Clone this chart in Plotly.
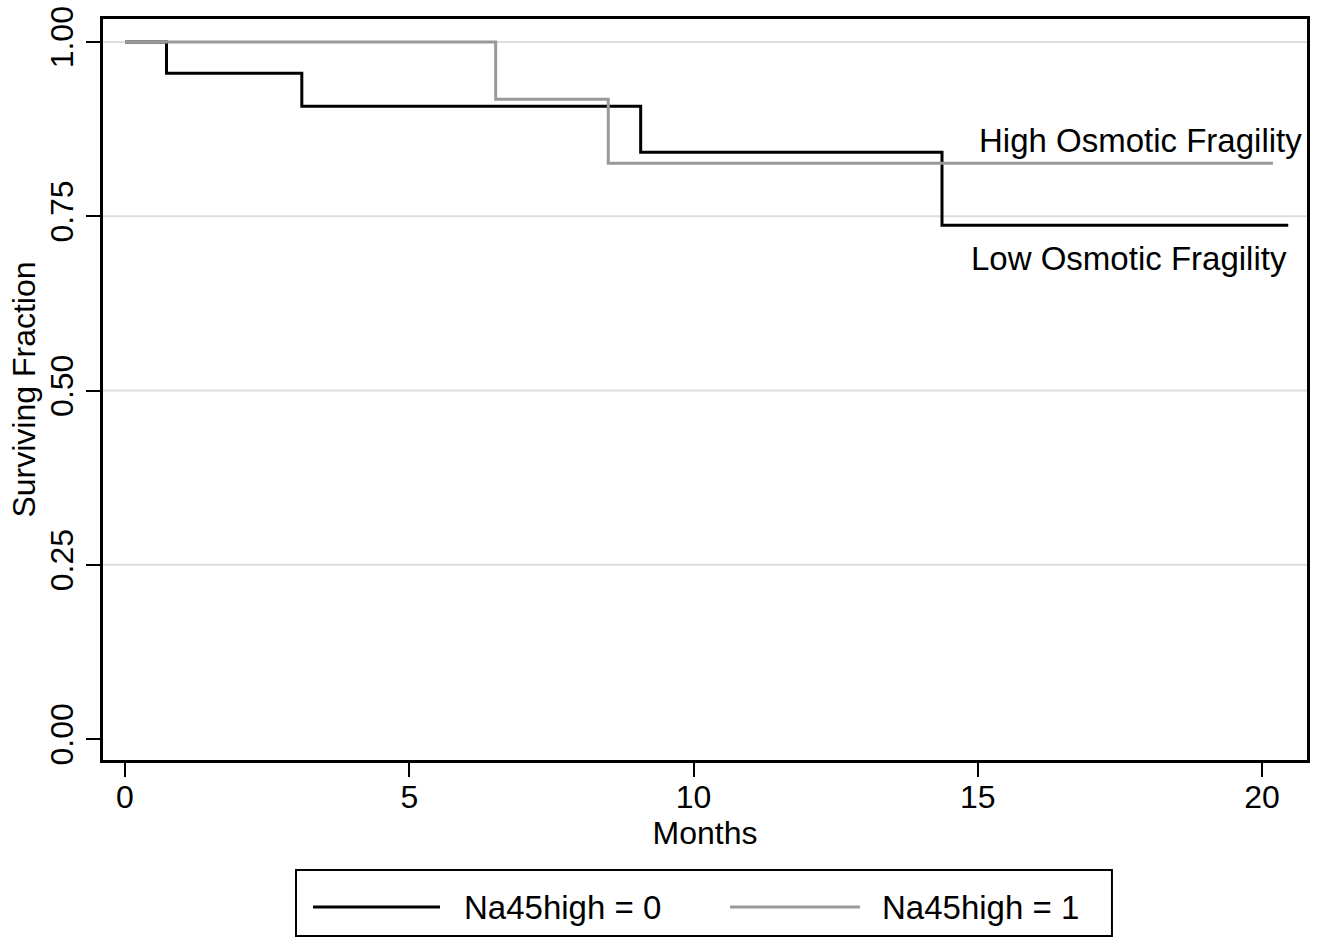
import plotly.graph_objects as go

# Kaplan-Meier step data
months_low = [0, 0.73, 3.11, 9.07, 14.37, 20.46]
surv_low = [1.0, 0.955, 0.908, 0.842, 0.737, 0.737]
months_high = [0, 6.52, 8.50, 20.19]
surv_high = [1.0, 0.918, 0.826, 0.826]

series_names = ["Na45high = 0", "Na45high = 1"]
series_colors = ["#000000", "#999999"]

y_ticks = [0.0, 0.25, 0.5, 0.75, 1.0]
y_ticklabels = ["0.00", "0.25", "0.50", "0.75", "1.00"]
grid_vals = [0.25, 0.5, 0.75, 1.0]
x_ticks = [0, 5, 10, 15, 20]

FONT = "Liberation Sans, Arial, Helvetica, sans-serif"
FS = 32

fig = go.Figure()
fig.add_trace(go.Scatter(x=months_low, y=surv_low, mode="lines", line_shape="hv",
                         line=dict(color=series_colors[0], width=3), name=series_names[0],
                         showlegend=False))
fig.add_trace(go.Scatter(x=months_high, y=surv_high, mode="lines", line_shape="hv",
                         line=dict(color=series_colors[1], width=3), name=series_names[1],
                         showlegend=False))

for g in grid_vals:
    fig.add_shape(type="line", xref="paper", yref="y", x0=0, x1=1, y0=g, y1=g,
                  line=dict(color="#dedede", width=2), layer="below")

fig.add_annotation(x=20.74, y=0.859, xref="x", yref="y", text="High Osmotic Fragility",
                   showarrow=False, xanchor="right", yanchor="middle",
                   font=dict(family=FONT, size=33, color="#000"))
fig.add_annotation(x=20.48, y=0.690, xref="x", yref="y", text="Low Osmotic Fragility",
                   showarrow=False, xanchor="right", yanchor="middle",
                   font=dict(family=FONT, size=33, color="#000"))

# Legend (drawn below the plot, Stata style)
fig.add_shape(type="rect", xref="paper", yref="paper", x0=0.1603, x1=0.8380,
              y0=-0.2375, y1=-0.1484, line=dict(color="#000", width=2),
              fillcolor="white")
leg_sample_x = [(0.1744, 0.2799), (0.5208, 0.6287)]
leg_text_x = [0.2982, 0.6453]
leg_y = -0.1984
for (x0, x1), tx, nm, col in zip(leg_sample_x, leg_text_x, series_names, series_colors):
    fig.add_shape(type="line", xref="paper", yref="paper", x0=x0, x1=x1, y0=leg_y, y1=leg_y,
                  line=dict(color=col, width=3))
    fig.add_annotation(x=tx, y=leg_y, xref="paper", yref="paper", text=nm, showarrow=False,
                       xanchor="left", yanchor="middle",
                       font=dict(family=FONT, size=33, color="#000"))

fig.update_layout(
    width=1327, height=938,
    margin=dict(l=103, r=20, t=19, b=178),
    paper_bgcolor="white", plot_bgcolor="white",
    font=dict(family=FONT, size=FS, color="#000"),
    showlegend=False,
    xaxis=dict(range=[-0.387, 20.79], tickvals=x_ticks, showgrid=False, zeroline=False,
               showline=True, linecolor="#000", linewidth=3, mirror=True,
               ticks="outside", ticklen=14, tickwidth=2, tickcolor="#000",
               ticklabelstandoff=-7, automargin=False,
               title=dict(text="Months", standoff=5, font=dict(size=FS)),
               tickfont=dict(size=FS)),
    yaxis=dict(range=[-0.030, 1.033], tickvals=y_ticks, ticktext=y_ticklabels,
               showgrid=False, zeroline=False, tickangle=-90,
               showline=True, linecolor="#000", linewidth=3, mirror=True,
               ticks="outside", ticklen=14, tickwidth=2, tickcolor="#000",
               automargin=False,
               title=dict(text="Surviving Fraction", standoff=0, font=dict(size=FS)),
               tickfont=dict(size=FS)),
)

fig.write_html("out.html", config={"displayModeBar": False},
               post_script="document.body.style.margin='0';document.body.style.overflow='hidden';")
